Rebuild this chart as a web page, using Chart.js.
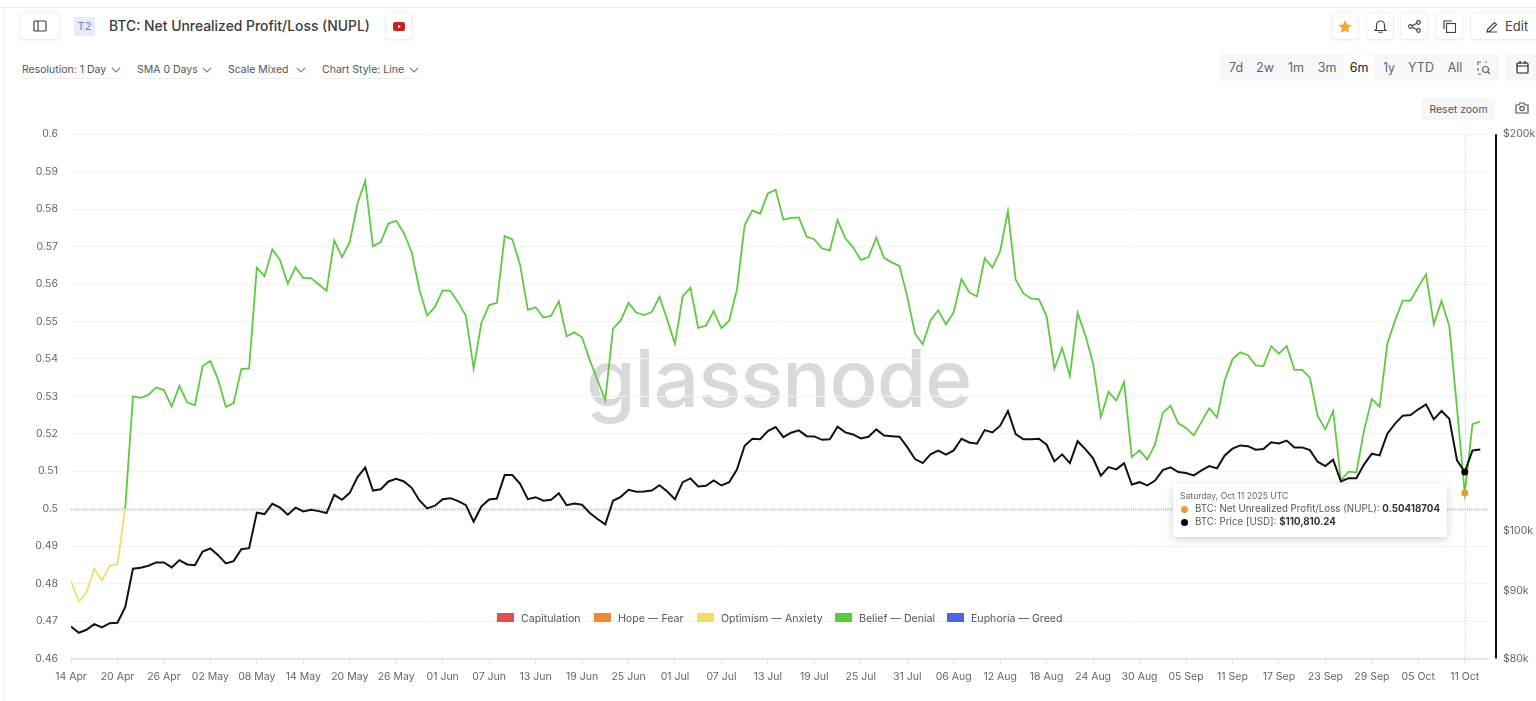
<!DOCTYPE html>
<html>
<head>
<meta charset="utf-8">
<title>BTC: Net Unrealized Profit/Loss (NUPL)</title>
<script src="https://cdn.jsdelivr.net/npm/chart.js@4/dist/chart.umd.min.js"></script>
<style>
    html, body { margin: 0; width: 1536px; height: 701px; overflow: hidden; background: #fff; font-family: Inter, sans-serif; color: #444; }
    .abs { position: absolute; white-space: nowrap; }
    .btn { position: absolute; top: 12px; height: 26px; border: 1px solid #eee; border-radius: 3px; display: flex; align-items: center; justify-content: center; box-shadow: 0 1px 1px #0000000a; background: #fff; }
    .drop { position: absolute; top: 63px; font-size: 10.5px; color: #555; height: 15px; line-height: 14px; border-bottom: 1px solid #f0f0f0; white-space: nowrap; }
    .range { position: absolute; top: 60px; font-size: 12.5px; color: #666; transform: translateX(-50%); }
    .swatch { position: absolute; top: 613px; width: 17px; height: 9px; }
    .legtext { position: absolute; top: 612px; font-size: 10.6px; line-height: 14px; color: #555; white-space: nowrap; }
    svg { display: block; fill: none; stroke: #444; stroke-width: 1.2; }
    canvas { position: absolute; left: 0; top: 0; }
    #tip { position: absolute; left: 1173px; top: 484px; width: 274px; height: 53px; background: #fff; border-radius: 3px; box-shadow: 0 2px 8px #00000030; z-index: 3; }
    #tip div { position: absolute; white-space: nowrap; font-size: 9.75px; line-height: 12px; color: #555; }
    #tip i { position: absolute; width: 7px; height: 7px; border-radius: 50%; left: 8px; }
</style>
</head>
<body>
<div class="abs" style="left:0;top:7px;width:1536px;height:1px;background:#ececec"></div>
<div class="abs" style="left:4px;top:7px;width:1px;height:694px;background:#f0f0f0"></div>

<div class="btn" style="left:19px;width:39px">
    <svg width="14" height="12" viewBox="0 0 14 12"><rect x="1" y="1" width="12" height="10" rx="1"/><path d="M5 1v10"/></svg>
</div>
<div class="abs" style="left:74px;top:17px;width:21px;height:19px;line-height:19px;text-align:center;background:#e6ebfb;color:#6f83d8;font-size:11px">T2</div>
<div class="abs" style="left:109px;top:17px;font-size:13.9px;line-height:18px;font-weight:500;color:#3c3c3c">BTC: Net Unrealized Profit/Loss (NUPL)</div>
<div class="btn" style="left:385px;width:26px">
    <svg width="12" height="9" viewBox="0 0 12 9" style="stroke:none"><rect width="12" height="9" rx="2.2" fill="#c9211e"/><path d="M5 2.8v3.4L7.8 4.5z" fill="#fff"/></svg>
</div>

<div class="drop" style="left:22px;width:101px">Resolution: 1 Day</div>
<div class="drop" style="left:137px;width:76px">SMA 0 Days</div>
<div class="drop" style="left:228px;width:79px">Scale Mixed</div>
<div class="drop" style="left:322px;width:98px">Chart Style: Line</div>
<svg class="abs" style="left:111px;top:67px;stroke:#888" width="10" height="6" viewBox="0 0 10 6"><path d="M1 1l4 4 4-4"/></svg>
<svg class="abs" style="left:202px;top:67px;stroke:#888" width="10" height="6" viewBox="0 0 10 6"><path d="M1 1l4 4 4-4"/></svg>
<svg class="abs" style="left:296px;top:67px;stroke:#888" width="10" height="6" viewBox="0 0 10 6"><path d="M1 1l4 4 4-4"/></svg>
<svg class="abs" style="left:409px;top:67px;stroke:#888" width="10" height="6" viewBox="0 0 10 6"><path d="M1 1l4 4 4-4"/></svg>

<div class="btn" style="left:1331px;width:26px">
    <svg width="14" height="13" viewBox="0 0 14 13" style="stroke:none"><path d="M7 0l2 4.4 4.8.5-3.6 3.2 1 4.8L7 10.4 2.8 12.900l1-4.800L.2 4.900 5 4.400z" fill="#f0a92e"/></svg>
</div>
<div class="btn" style="left:1366px;width:26px">
    <svg width="13" height="14" viewBox="0 0 13 14"><path d="M2.500 10V6a4 4 0 0 1 8 0v4l1.500 1.500H1zM5 12.500a1.500 1.500 0 0 0 3 0"/></svg>
</div>
<div class="btn" style="left:1400px;width:26px">
    <svg width="13" height="13" viewBox="0 0 13 13"><circle cx="2.500" cy="6.500" r="1.800"/><circle cx="10.500" cy="2.500" r="1.800"/><circle cx="10.500" cy="10.500" r="1.800"/><path d="M4 5.700l5-2.500M4 7.300l5 2.500"/></svg>
</div>
<div class="btn" style="left:1435px;width:26px">
    <svg width="13" height="13" viewBox="0 0 13 13"><rect x="3.500" y="3.500" width="9" height="9"/><path d="M1 9V1h8"/></svg>
</div>
<div class="btn" style="left:1470px;width:70px;justify-content:flex-start">
    <svg width="13" height="13" viewBox="0 0 13 13" style="margin:0 7px 0 14px"><path d="M1 12h11M2.500 9.500l7-7 2 2-7 7H2.500z"/></svg>
    <span style="font-size:13px;color:#444">Edit</span>
</div>

<div class="abs" style="left:1220px;top:54px;width:279px;height:27px;background:#f6f7f8;border-radius:3px"></div>
<div class="abs" style="left:1344px;top:55px;width:31px;height:25px;background:#fff;border-radius:2px"></div>
<div id="ranges"></div>
<svg class="abs" style="left:1477px;top:61px;stroke:#666" width="14" height="14" viewBox="0 0 14 14"><path d="M1 4V1h3M8 1h2M1 7v3M1 13h3"/><circle cx="8.500" cy="8.500" r="3"/><path d="M11 11l2 2"/></svg>
<div class="abs" style="left:1506px;top:54px;width:30px;height:27px;background:#f6f7f8"></div>
<svg class="abs" style="left:1516px;top:61px;stroke:#222" width="13" height="13" viewBox="0 0 13 13"><rect x="1" y="2" width="11" height="10" rx="1"/><path d="M1 5h11M4 0v3M9 0v3"/></svg>
<div class="abs" style="left:1422px;top:98px;width:73px;height:22px;line-height:23px;text-align:center;background:#f6f7f8;border-radius:3px;font-size:10.5px;color:#555">Reset zoom</div>
<svg class="abs" style="left:1515px;top:102px;stroke:#555" width="14" height="12" viewBox="0 0 14 12"><path d="M1 3h3l1-2h4l1 2h3v8H1z"/><circle cx="7" cy="6.500" r="2.200"/></svg>

<div class="abs" style="left:586px;top:328px;font-family:Inter,sans-serif;font-size:80px;line-height:100px;font-weight:500;letter-spacing:-1px;color:#d9d9d9">glassnode</div>

<canvas id="nuplChart" width="1536" height="701"></canvas>

<div id="legend"></div>

<div id="tip">
    <div style="left:7px;top:6px;font-size:8.6px;color:#666">Saturday, Oct 11 2025 UTC</div>
    <i style="top:22px;background:#ee9a3a"></i>
    <div style="left:22px;top:19px">BTC: Net Unrealized Profit/Loss (NUPL): <b id="tipNupl" style="color:#333"></b></div>
    <i style="top:35px;background:#000"></i>
    <div style="left:22px;top:32px">BTC: Price [USD]: <b id="tipPrice" style="color:#333"></b></div>
</div>

<script>
const tickLabels = ['14 Apr', '20 Apr', '26 Apr', '02 May', '08 May', '14 May', '20 May', '26 May', '01 Jun', '07 Jun', '13 Jun', '19 Jun', '25 Jun', '01 Jul', '07 Jul', '13 Jul', '19 Jul', '25 Jul', '31 Jul', '06 Aug', '12 Aug', '18 Aug', '24 Aug', '30 Aug', '05 Sep', '11 Sep', '17 Sep', '23 Sep', '29 Sep', '05 Oct', '11 Oct'];

// one value per day, 14 Apr to 13 Oct
const nuplValues = [
    0.4807, 0.4752, 0.4776, 0.4840, 0.4809, 0.4847, 0.4852, 0.5000, 0.5300, 0.5296,
    0.5304, 0.5324, 0.5317, 0.5273, 0.5328, 0.5284, 0.5276, 0.5381, 0.5395, 0.5345,
    0.5272, 0.5282, 0.5373, 0.5375, 0.5644, 0.5621, 0.5693, 0.5664, 0.5601, 0.5645,
    0.5616, 0.5616, 0.5599, 0.5582, 0.5717, 0.5672, 0.5712, 0.5815, 0.5875, 0.5701,
    0.5712, 0.5762, 0.5769, 0.5736, 0.5685, 0.5585, 0.5516, 0.5539, 0.5583, 0.5582,
    0.5551, 0.5515, 0.5375, 0.5496, 0.5544, 0.5550, 0.5728, 0.5719, 0.5651, 0.5531,
    0.5538, 0.5511, 0.5515, 0.5554, 0.5460, 0.5471, 0.5458, 0.5397, 0.5343, 0.5290,
    0.5481, 0.5503, 0.5550, 0.5524, 0.5517, 0.5525, 0.5566, 0.5505, 0.5440, 0.5567,
    0.5590, 0.5483, 0.5489, 0.5528, 0.5482, 0.5502, 0.5585, 0.5757, 0.5797, 0.5788,
    0.5842, 0.5852, 0.5772, 0.5777, 0.5778, 0.5727, 0.5719, 0.5695, 0.5690, 0.5771,
    0.5722, 0.5698, 0.5664, 0.5672, 0.5724, 0.5670, 0.5658, 0.5648, 0.5566, 0.5468,
    0.5439, 0.5503, 0.5530, 0.5492, 0.5525, 0.5613, 0.5578, 0.5567, 0.5669, 0.5644,
    0.5688, 0.5795, 0.5612, 0.5575, 0.5561, 0.5560, 0.5514, 0.5374, 0.5429, 0.5355,
    0.5523, 0.5463, 0.5388, 0.5245, 0.5312, 0.5289, 0.5338, 0.5138, 0.5156, 0.5131,
    0.5172, 0.5256, 0.5275, 0.5228, 0.5216, 0.5196, 0.5232, 0.5268, 0.5244, 0.5343,
    0.5399, 0.5418, 0.5410, 0.5383, 0.5381, 0.5434, 0.5414, 0.5435, 0.5371, 0.5371,
    0.5350, 0.5248, 0.5212, 0.5261, 0.5076, 0.5099, 0.5097, 0.5210, 0.5293, 0.5272,
    0.5441, 0.5503, 0.5556, 0.5556, 0.5592, 0.5626, 0.5493, 0.5555, 0.5488, 0.5268,
    0.50418704, 0.5226, 0.5233
];

const priceValues = [
    84610, 83680, 84120, 84950, 84460, 85100, 85160, 87510, 93590, 93760,
    94090, 94630, 94630, 93800, 95010, 94300, 94180, 96460, 96970, 95840,
    94460, 94840, 96850, 97020, 103230, 102980, 104850, 104130, 102870, 104130,
    103460, 103770, 103510, 103160, 106500, 105580, 106870, 109840, 111680, 107300,
    107550, 109010, 109530, 109010, 107810, 105450, 104000, 104490, 105690, 105880,
    105320, 104600, 101620, 104360, 105630, 105820, 110230, 110230, 108570, 105690,
    106060, 105400, 105580, 106800, 104600, 104910, 104670, 103160, 102080, 101140,
    105400, 106130, 107430, 107060, 107120, 107300, 108310, 107120, 105690, 108880,
    109590, 108060, 108190, 109200, 108250, 108880, 111290, 116040, 117460, 117370,
    119060, 119900, 117790, 118720, 119200, 118000, 117940, 117250, 117370, 119980,
    118780, 118360, 117520, 117880, 119410, 118150, 118000, 117880, 115760, 113360,
    112570, 114300, 115040, 114240, 115100, 117460, 116700, 116440, 119260, 118780,
    120190, 123300, 118420, 117370, 117370, 117460, 116240, 112900, 114300, 112570,
    116960, 115360, 113500, 110120, 111790, 111340, 112570, 108440, 108880, 108250,
    109200, 111210, 111730, 110820, 110620, 110170, 111150, 111990, 111540, 114100,
    115440, 116100, 115960, 115240, 115360, 116760, 116500, 117100, 115700, 115700,
    115160, 112840, 111990, 113240, 109010, 109650, 109650, 112320, 114440, 114100,
    118510, 120610, 122310, 122440, 123670, 124740, 121510, 123300, 121660, 113100,
    110810.24, 115100, 115300
];

const priceTicks = [80000, 90000, 100000, 200000];
const legendNames = ['Capitulation', 'Hope — Fear', 'Optimism — Anxiety', 'Belief — Denial', 'Euphoria — Greed'];
const legendColors = ['#e05050', '#ee8a35', '#f3dc66', '#5cc83c', '#4a64e2'];
const legendLeft = [497, 594, 697, 835, 947];
const rangeNames = ['7d', '2w', '1m', '3m', '6m', '1y', 'YTD', 'All'];
const rangeCenters = [1236, 1265, 1296, 1327, 1359, 1389, 1421, 1455];

const hoverIndex = 180;
const beliefColor = '#5fc942';
const optimismColor = '#f3dc6e';
const axisFont = { family: 'Inter', size: 10.5 };

document.getElementById('legend').innerHTML = legendNames.map((name, i) => `
    <div class="swatch" style="left:${legendLeft[i]}px;background:${legendColors[i]}"></div>
    <div class="legtext" style="left:${legendLeft[i] + 24}px">${name}</div>
`).join('');

document.getElementById('ranges').innerHTML = rangeNames.map((name, i) =>
    `<div class="range" style="left:${rangeCenters[i]}px${name === '6m' ? ';color:#222' : ''}">${name}</div>`
).join('');

document.getElementById('tipNupl').innerText = nuplValues[hoverIndex].toFixed(8);
document.getElementById('tipPrice').innerText = '$' + priceValues[hoverIndex].toLocaleString('en-US', { minimumFractionDigits: 2 });

const guides = {
    id: 'guides',
    beforeDatasetsDraw(chart) {
        const { ctx, chartArea, scales } = chart;
        const y = Math.round(scales.y.getPixelForValue(0.5)) + 0.5;
        const x = Math.round(scales.x.getPixelForValue(hoverIndex)) + 0.5;
        ctx.save();
        ctx.lineWidth = 2;
        ctx.setLineDash([1, 1]);
        ctx.strokeStyle = '#c2c8cf';
        ctx.beginPath();
        ctx.moveTo(chartArea.left, y);
        ctx.lineTo(chartArea.right, y);
        ctx.stroke();
        ctx.lineWidth = 1;
        ctx.setLineDash([1, 2]);
        ctx.strokeStyle = '#b4c0cf';
        ctx.beginPath();
        ctx.moveTo(x, chartArea.top);
        ctx.lineTo(x, chartArea.bottom);
        ctx.stroke();
        ctx.setLineDash([]);
        // price axis bar sits a little right of the plot
        ctx.strokeStyle = '#111';
        ctx.lineWidth = 2;
        ctx.beginPath();
        ctx.moveTo(chartArea.right + 8, scales.y1.getPixelForValue(200000));
        ctx.lineTo(chartArea.right + 8, scales.y1.getPixelForValue(80000));
        ctx.stroke();
        ctx.restore();
    }
};

new Chart(document.getElementById('nuplChart').getContext('2d'), {
    type: 'line',
    plugins: [guides],
    data: {
        datasets: [
            {
                label: 'BTC: Price [USD]',
                yAxisID: 'y1',
                order: 1,
                data: priceValues.map((v, i) => ({ x: i, y: v })),
                borderColor: '#111',
                borderWidth: 2,
                tension: 0,
                pointRadius: c => c.dataIndex === hoverIndex ? 3.5 : 0,
                pointBackgroundColor: '#000',
                pointBorderWidth: 0
            },
            {
                label: 'BTC: Net Unrealized Profit/Loss (NUPL)',
                yAxisID: 'y',
                order: 2,
                data: nuplValues.map((v, i) => ({ x: i, y: v })),
                borderColor: beliefColor,
                borderWidth: 1.8,
                tension: 0,
                segment: { borderColor: c => c.p0.parsed.y < 0.5 ? optimismColor : beliefColor },
                pointRadius: c => c.dataIndex === hoverIndex ? 3.5 : 0,
                pointBackgroundColor: '#ee9a3a',
                pointBorderWidth: 0
            }
        ]
    },
    options: {
        responsive: false,
        animation: false,
        layout: { padding: { top: 134.3, left: 0, right: 0, bottom: 0 } },
        plugins: { legend: { display: false }, tooltip: { enabled: false } },
        scales: {
            x: {
                type: 'linear',
                min: 0,
                max: 183,
                afterFit: s => { s.height = 42.5; },
                border: { color: '#dedede', width: 1.5 },
                grid: { drawOnChartArea: false, drawTicks: true, tickLength: 6, color: '#e4e4e4' },
                ticks: {
                    stepSize: 6,
                    includeBounds: false,
                    autoSkip: false,
                    maxRotation: 0,
                    padding: 6,
                    color: '#666',
                    font: axisFont,
                    callback: v => tickLabels[v / 6]
                }
            },
            y: {
                position: 'left',
                min: 0.46,
                max: 0.6,
                afterFit: s => { s.width = 71; },
                border: { display: false },
                grid: { color: '#f3f3f3', drawTicks: false },
                ticks: {
                    stepSize: 0.01,
                    padding: 13,
                    color: '#666',
                    font: axisFont,
                    callback: v => String(+v.toFixed(2))
                }
            },
            y1: {
                type: 'logarithmic',
                position: 'right',
                min: 80000,
                max: 200000,
                afterFit: s => { s.width = 48; },
                afterBuildTicks: s => { s.ticks = priceTicks.map(v => ({ value: v })); },
                border: { display: false },
                grid: { display: false, drawTicks: false },
                ticks: {
                    padding: 15,
                    color: '#666',
                    font: axisFont,
                    callback: v => '$' + v / 1000 + 'k'
                }
            }
        }
    }
});
</script>
</body>
</html>
